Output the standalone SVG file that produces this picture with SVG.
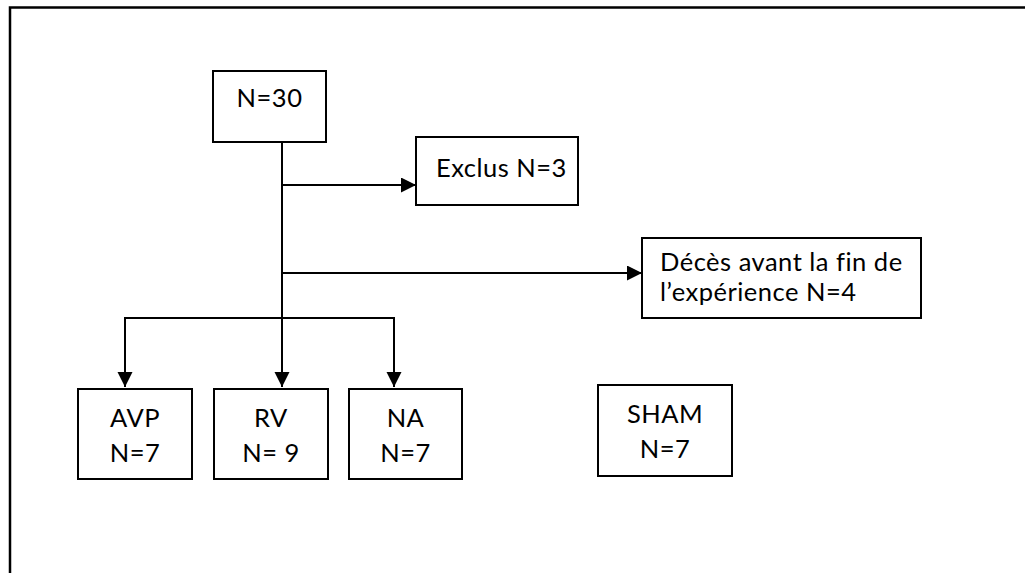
<svg xmlns="http://www.w3.org/2000/svg" width="1025" height="573" viewBox="0 0 1025 573">
<style>
.box{fill:#fff;stroke:#000;stroke-width:2}
.t{font-family:Lato,"Open Sans","Liberation Sans",sans-serif;font-size:25.5px;letter-spacing:0.5px;font-variant-ligatures:none;fill:#000}
.c{text-anchor:middle}
.ln{fill:none;stroke:#000;stroke-width:2}
</style>
<defs>
<marker id="ahb" markerWidth="16" markerHeight="16" refX="15" refY="7.5" orient="auto" markerUnits="userSpaceOnUse" viewBox="0 0 16 16">
<path d="M0,0 L15,7.5 L0,15 Z" fill="#000"/>
</marker>
</defs>
<rect width="1025" height="573" fill="#fff"/>
<path d="M10,573 V7.5 H1025" fill="none" stroke="#000" stroke-width="2.5"/>
<g id="connectors">
<path class="ln" d="M282,142 V387" marker-end="url(#ahb)"/>
<path class="ln" d="M282,185 H416" marker-end="url(#ahb)"/>
<path class="ln" d="M282,273 H642" marker-end="url(#ahb)"/>
<path class="ln" d="M124,318 H395"/>
<path class="ln" d="M125,318 V387" marker-end="url(#ahb)"/>
<path class="ln" d="M394,318 V387" marker-end="url(#ahb)"/>
</g>
<g id="n30"><rect class="box" x="213" y="71" width="113" height="71"/><text class="t c" x="269.5" y="106.5">N=30</text></g>
<g id="exclus"><rect class="box" x="416" y="137" width="162" height="68"/><text class="t" x="436" y="177">Exclus N=3</text></g>
<g id="deces"><rect class="box" x="642" y="238" width="279" height="80"/><text class="t"><tspan x="660" y="270.5">Décès avant la fin de</tspan><tspan x="660" y="301.2">l’expérience N=4</tspan></text></g>
<g id="avp"><rect class="box" x="78" y="389" width="114" height="90"/><text class="t c" x="135" y="426.5">AVP</text><text class="t c" x="135" y="461.5">N=7</text></g>
<g id="rv"><rect class="box" x="214" y="389" width="114" height="90"/><text class="t c" x="271" y="426.5">RV</text><text class="t c" x="271" y="461.5">N= 9</text></g>
<g id="na"><rect class="box" x="349" y="389" width="113" height="90"/><text class="t c" x="405.5" y="426.5">NA</text><text class="t c" x="405.5" y="461.5">N=7</text></g>
<g id="sham"><rect class="box" x="598" y="385" width="134" height="91"/><text class="t c" x="665" y="423">SHAM</text><text class="t c" x="665" y="458">N=7</text></g>
</svg>
